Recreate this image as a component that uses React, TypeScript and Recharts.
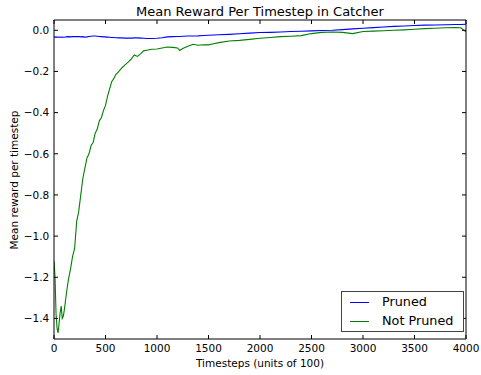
import React from 'react';
import { LineChart, Line, XAxis, YAxis } from 'recharts';

const timesteps = [0, 10, 20, 30, 40, 50, 60, 70, 80, 90, 100, 110, 120, 140, 160, 180, 200, 220, 240, 260, 280, 300, 320, 340, 360, 380, 400, 420, 440, 460, 480, 500, 520, 540, 560, 580, 600, 630, 660, 690, 720, 750, 780, 810, 840, 870, 900, 950, 1000, 1050, 1100, 1150, 1200, 1220, 1250, 1300, 1350, 1400, 1450, 1500, 1550, 1600, 1700, 1800, 1900, 2000, 2100, 2200, 2300, 2400, 2500, 2600, 2700, 2800, 2900, 3000, 3100, 3200, 3300, 3400, 3500, 3600, 3700, 3800, 3900, 3950, 4000];

const notPruned = [-1.12, -1.2, -1.38, -1.45, -1.47, -1.42, -1.37, -1.34, -1.4, -1.39, -1.36, -1.32, -1.28, -1.21, -1.16, -1.1, -1.06, -0.93, -0.88, -0.8, -0.72, -0.67, -0.62, -0.6, -0.56, -0.545, -0.5, -0.48, -0.44, -0.425, -0.39, -0.365, -0.32, -0.285, -0.25, -0.235, -0.215, -0.2, -0.182, -0.168, -0.155, -0.14, -0.12, -0.127, -0.115, -0.1, -0.097, -0.092, -0.091, -0.086, -0.081, -0.083, -0.086, -0.098, -0.089, -0.078, -0.068, -0.073, -0.07, -0.071, -0.065, -0.06, -0.052, -0.049, -0.044, -0.039, -0.035, -0.031, -0.029, -0.026, -0.016, -0.01, -0.008, -0.01, -0.016, -0.006, -0.004, -0.002, 0.0, 0.002, 0.005, 0.008, 0.01, 0.012, 0.013, 0.012, -0.008];

const pruned = [-0.032, -0.033, -0.032, -0.034, -0.033, -0.034, -0.033, -0.034, -0.033, -0.034, -0.034, -0.033, -0.032, -0.031, -0.032, -0.031, -0.03, -0.031, -0.03, -0.032, -0.031, -0.033, -0.032, -0.03, -0.029, -0.028, -0.028, -0.029, -0.03, -0.031, -0.032, -0.032, -0.033, -0.034, -0.035, -0.035, -0.036, -0.037, -0.037, -0.038, -0.038, -0.038, -0.037, -0.037, -0.038, -0.039, -0.04, -0.04, -0.039, -0.036, -0.032, -0.031, -0.03, -0.03, -0.029, -0.028, -0.028, -0.027, -0.025, -0.024, -0.023, -0.022, -0.02, -0.017, -0.014, -0.011, -0.01, -0.008, -0.006, -0.005, -0.003, -0.001, 0.0, 0.003, 0.007, 0.01, 0.013, 0.016, 0.019, 0.021, 0.023, 0.025, 0.026, 0.027, 0.028, 0.028, 0.029];

const xTicks = [0, 500, 1000, 1500, 2000, 2500, 3000, 3500, 4000];
const yTicks = [-1.4, -1.2, -1.0, -0.8, -0.6, -0.4, -0.2, 0.0];

const seriesNames = ['Pruned', 'Not Pruned'];
const seriesColors = ['#0000ff', '#008000'];

const data = timesteps.map((t, i) => ({ t, pruned: pruned[i], notPruned: notPruned[i] }));

const FONT = '"DejaVu Sans", sans-serif';
const TICK_LEN = 4;

const fmtY = (v: number) => {
  const s = Math.abs(v) < 1e-9 ? '0.0' : v.toFixed(1);
  return s.replace('-', '\u2212');
};

const BottomTick = (props: any) => {
  const { x, y, payload } = props;
  return (
    <g>
      <line x1={x} y1={y} x2={x} y2={y - TICK_LEN} stroke="#000" strokeWidth={1} />
      <text x={x} y={y + 13.3} textAnchor="middle" fontSize={10.5} fontFamily={FONT} fill="#000">
        {String(payload.value)}
      </text>
    </g>
  );
};

const TopTick = (props: any) => {
  const { x, y } = props;
  return <line x1={x} y1={y} x2={x} y2={y + TICK_LEN} stroke="#000" strokeWidth={1} />;
};

const LeftTick = (props: any) => {
  const { x, y, payload } = props;
  return (
    <g>
      <line x1={x} y1={y} x2={x + TICK_LEN} y2={y} stroke="#000" strokeWidth={1} />
      <text x={x - 4.7} y={y + 3.8} textAnchor="end" fontSize={10.5} fontFamily={FONT} fill="#000">
        {fmtY(payload.value)}
      </text>
    </g>
  );
};

const RightTick = (props: any) => {
  const { x, y } = props;
  return <line x1={x} y1={y} x2={x - TICK_LEN} y2={y} stroke="#000" strokeWidth={1} />;
};

const LegendBox = () => (
  <div
    style={{
      position: 'absolute',
      left: 341,
      top: 291,
      width: 123,
      height: 41,
      border: '1px solid #444',
      background: '#fff',
      boxSizing: 'border-box',
      fontFamily: FONT,
      fontSize: 12.8,
    }}
  >
    {seriesNames.map((name, i) => (
      <div
        key={name}
        style={{
          position: 'absolute',
          left: 0,
          top: 3 + i * 19,
          height: 14,
          display: 'flex',
          alignItems: 'center',
          whiteSpace: 'nowrap',
        }}
      >
        <div style={{ marginLeft: 8, width: 19, height: 1, background: seriesColors[i] }} />
        <span style={{ marginLeft: 13, lineHeight: '14px', color: '#000' }}>{name}</span>
      </div>
    ))}
  </div>
);

export default function App() {
  return (
    <div style={{ position: 'absolute', left: 0, top: 0, width: 481, height: 375, background: '#fff' }}>
      <LineChart
        width={481}
        height={375}
        data={data}
        margin={{ top: 19, right: 14, bottom: 0, left: 0 }}
      >
        <XAxis
          xAxisId="bottom"
          dataKey="t"
          type="number"
          domain={[0, 4000]}
          ticks={xTicks}
          allowDataOverflow
          height={36}
          tickSize={0}
          tickMargin={0}
          tickLine={false}
          axisLine={{ stroke: '#000', strokeWidth: 1 }}
          tick={<BottomTick />}
          interval={0}
        />
        <XAxis
          xAxisId="top"
          orientation="top"
          dataKey="t"
          type="number"
          domain={[0, 4000]}
          ticks={xTicks}
          allowDataOverflow
          height={1}
          tickSize={0}
          tickMargin={0}
          tickLine={false}
          axisLine={{ stroke: '#000', strokeWidth: 1 }}
          tick={<TopTick />}
          interval={0}
        />
        <YAxis
          yAxisId="left"
          type="number"
          domain={[-1.5, 0.05]}
          ticks={yTicks}
          allowDataOverflow
          width={54}
          tickSize={0}
          tickMargin={0}
          tickLine={false}
          axisLine={{ stroke: '#000', strokeWidth: 1 }}
          tick={<LeftTick />}
          interval={0}
        />
        <YAxis
          yAxisId="right"
          orientation="right"
          type="number"
          domain={[-1.5, 0.05]}
          ticks={yTicks}
          allowDataOverflow
          width={1}
          tickSize={0}
          tickMargin={0}
          tickLine={false}
          axisLine={{ stroke: '#000', strokeWidth: 1 }}
          tick={<RightTick />}
          interval={0}
        />
        <Line
          xAxisId="bottom"
          yAxisId="left"
          type="linear"
          dataKey="pruned"
          name={seriesNames[0]}
          stroke={seriesColors[0]}
          strokeWidth={1.1}
          dot={false}
          isAnimationActive={false}
        />
        <Line
          xAxisId="bottom"
          yAxisId="left"
          type="linear"
          dataKey="notPruned"
          name={seriesNames[1]}
          stroke={seriesColors[1]}
          strokeWidth={1.1}
          dot={false}
          isAnimationActive={false}
        />
      </LineChart>
      <LegendBox />
      <div
        style={{
          position: 'absolute',
          left: 54,
          width: 412,
          top: 4,
          textAlign: 'center',
          fontFamily: FONT,
          fontSize: 13,
          lineHeight: '15px',
          color: '#000',
          whiteSpace: 'nowrap',
        }}
      >
        Mean Reward Per Timestep in Catcher
      </div>
      <div
        style={{
          position: 'absolute',
          left: 54,
          width: 412,
          top: 356,
          textAlign: 'center',
          fontFamily: FONT,
          fontSize: 10.5,
          lineHeight: '14px',
          color: '#000',
          whiteSpace: 'nowrap',
        }}
      >
        Timesteps (units of 100)
      </div>
      <div
        style={{
          position: 'absolute',
          left: 14 - 100,
          top: 179.5 - 7,
          width: 200,
          height: 14,
          textAlign: 'center',
          fontFamily: FONT,
          fontSize: 10.5,
          lineHeight: '14px',
          color: '#000',
          whiteSpace: 'nowrap',
          transform: 'rotate(-90deg)',
          transformOrigin: '50% 50%',
        }}
      >
        Mean reward per timestep
      </div>
    </div>
  );
}
